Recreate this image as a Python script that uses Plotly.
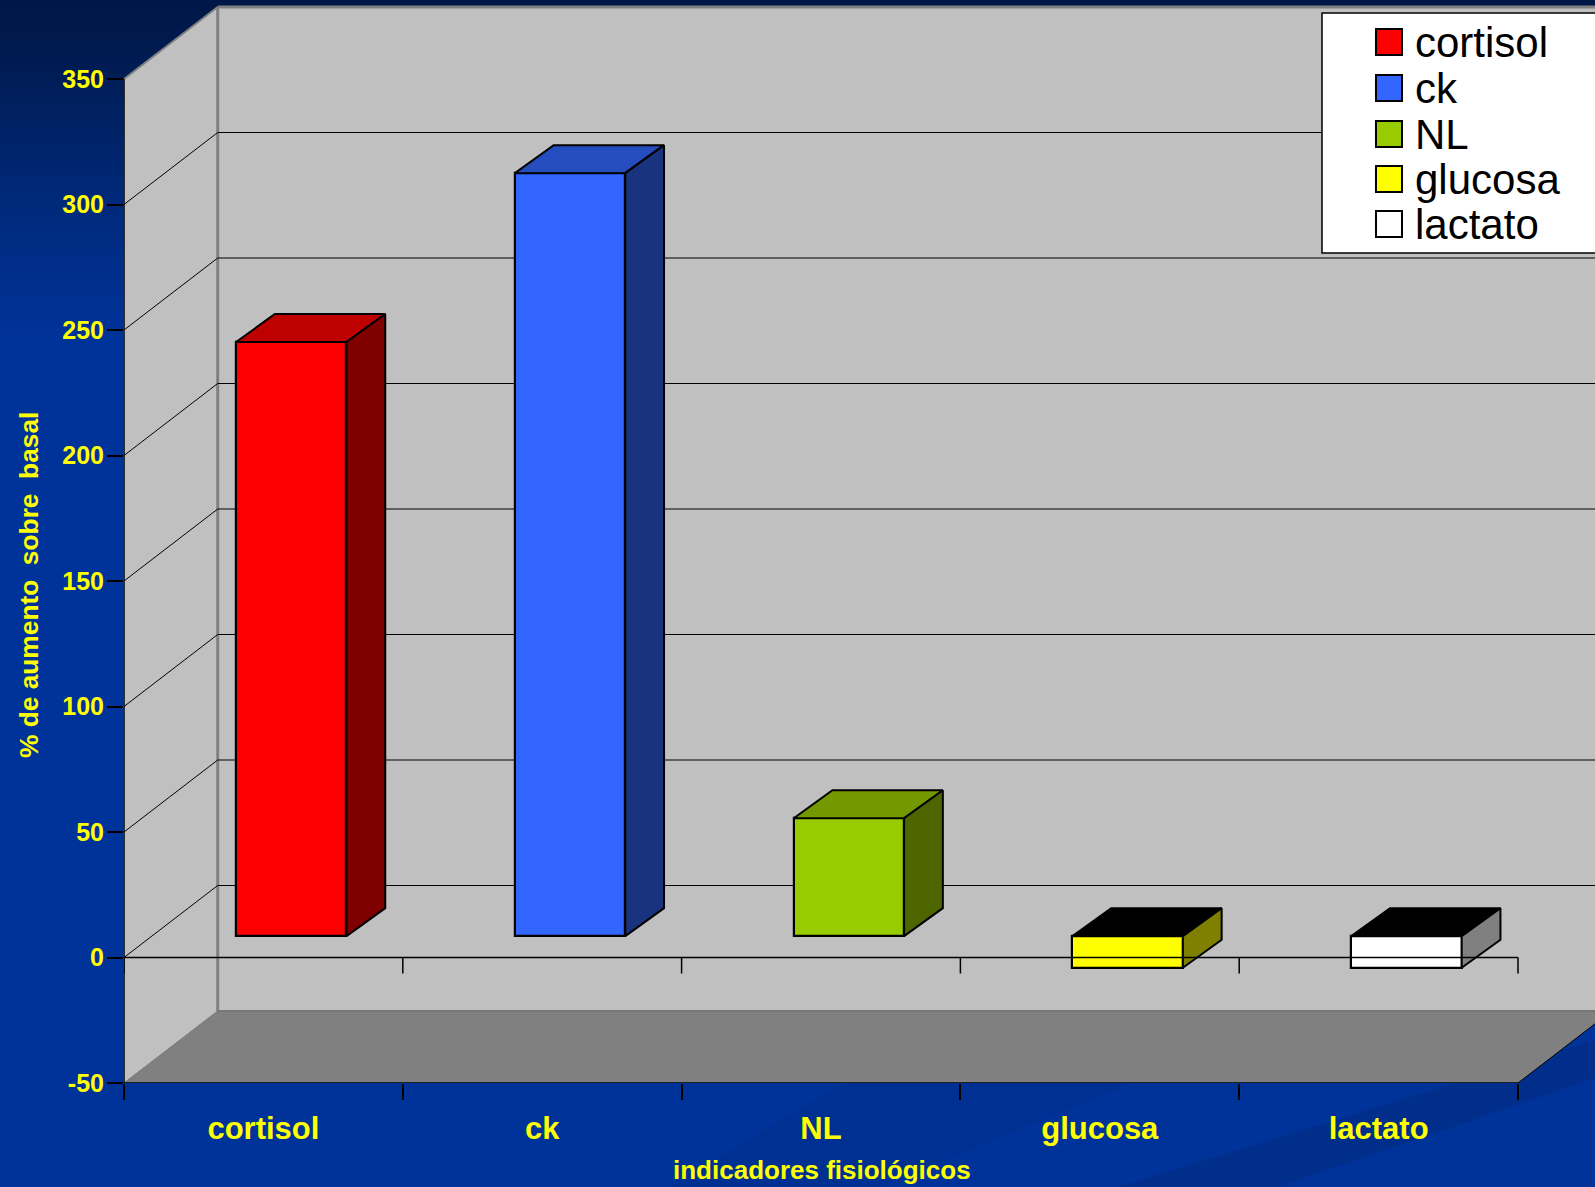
import plotly.graph_objects as go

# ---- data ----
categories = ["cortisol", "ck", "NL", "glucosa", "lactato"]
values = [236.7, 304, 47, -12.6, -12.6]
front_colors = ["#FF0000", "#3366FF", "#99CC00", "#FFFF00", "#FFFFFF"]
side_colors = ["#800000", "#1A337F", "#4D6600", "#808000", "#808080"]
top_colors = ["#BF0000", "#264DBF", "#739900", "#000000", "#000000"]
y_ticks = [-50, 0, 50, 100, 150, 200, 250, 300, 350]
y_tick_labels = ["-50", "0", "50", "100", "150", "200", "250", "300", "350"]
y_title = "% de aumento\u00a0 sobre\u00a0 basal"
x_title = "indicadores fisiológicos"

# ---- page geometry ----
W, H = 1595, 1187
X0, X_UNIT = 124, 278.8
Y_BOTTOM, Y_UNIT = 1083, 2.51
FONT = "Liberation Sans"
YELLOW = "#FFFF00"

# 3-D projection offsets, in axis units
WALL_DX, WALL_DY = 93.7 / X_UNIT, 72 / Y_UNIT
BAR_SHIFT_X, BAR_SHIFT_Y = 0.1, 8.5
BAR_W = 0.396
BAR_DX, BAR_DY = 0.139, 11.15
TICK_X = list(range(len(categories) + 1))
TICK_LEN = 16 / Y_UNIT

x_max = (W - X0) / X_UNIT
y_max = Y_BOTTOM / Y_UNIT - 50
y_min = y_ticks[0]
y_top = y_ticks[-1]

fig = go.Figure()

# ---- slide background (full-page pixel axes) ----
fig.add_trace(go.Heatmap(
    x=[0, W], y=[0, 60, 200, 340, H], z=[[0, 0], [0.12, 0.12], [0.62, 0.62], [1, 1], [1, 1]],
    zmin=0, zmax=1, zsmooth="best", showscale=False, hoverinfo="skip",
    colorscale=[[0, "#001848"], [1, "#003399"]], xaxis="x", yaxis="y"))
fig.add_trace(go.Scatter(
    x=[843, 1133, 880, 670, 843], y=[1083, 1083, H, H, 1083],
    mode="lines", fill="toself", fillcolor="#003192", line=dict(width=0),
    hoverinfo="skip", showlegend=False, xaxis="x", yaxis="y"))
fig.add_trace(go.Scatter(
    x=[1118, W, W, 1277, 1118], y=[H, 1040, 1078, H, H],
    mode="lines", fill="toself", fillcolor="#002E8A", line=dict(width=0),
    hoverinfo="skip", showlegend=False, xaxis="x", yaxis="y"))

# ---- walls and floor ----
shapes = []


def poly(points, fill, line_color=None, line_width=0):
    path = "M" + "L".join(f"{a},{b}" for a, b in points) + "Z"
    shapes.append(dict(type="path", path=path, xref="x2", yref="y2", layer="below",
                       fillcolor=fill, line=dict(color=line_color or fill, width=line_width)))


def seg(a, b, color, width):
    shapes.append(dict(type="line", xref="x2", yref="y2", layer="below",
                       x0=a[0], y0=a[1], x1=b[0], y1=b[1], line=dict(color=color, width=width)))


far = 5 + WALL_DX
poly([(WALL_DX, y_min + WALL_DY), (far, y_min + WALL_DY), (far, y_top + WALL_DY), (WALL_DX, y_top + WALL_DY)], "#C0C0C0")
poly([(0, y_min), (WALL_DX, y_min + WALL_DY), (WALL_DX, y_top + WALL_DY), (0, y_top)], "#C0C0C0")
poly([(0, y_min), (WALL_DX, y_min + WALL_DY), (far, y_min + WALL_DY), (5, y_min)], "#808080")
seg((0, y_top), (WALL_DX, y_top + WALL_DY), "#808080", 2)
seg((WALL_DX, y_top + WALL_DY), (far, y_top + WALL_DY), "#808080", 3)
seg((WALL_DX, y_min + WALL_DY), (WALL_DX, y_top + WALL_DY), "#808080", 3)
seg((0, y_min), (WALL_DX, y_min + WALL_DY), "#808080", 1)
seg((WALL_DX, y_min + WALL_DY), (far, y_min + WALL_DY), "#777777", 2)
for v in y_ticks[1:-1]:
    seg((0, v), (WALL_DX, v + WALL_DY), "#000000", 1)
    seg((WALL_DX, v + WALL_DY), (far, v + WALL_DY), "#000000", 1.2)

# ---- bars: front faces through the bar trace ----
n = len(categories)
centers = [i + 0.5 + BAR_SHIFT_X for i in range(n)]
fig.add_trace(go.Bar(
    x=centers, y=values, base=BAR_SHIFT_Y, width=BAR_W,
    marker=dict(color=front_colors, line=dict(color="#000000", width=2.2)),
    hovertext=categories, hoverinfo="text+y", showlegend=False, xaxis="x2", yaxis="y2"))

# ---- bars: top and side faces ----
for c, val, side, top in zip(centers, values, side_colors, top_colors):
    l, r = c - BAR_W / 2, c + BAR_W / 2
    hi = max(val, 0) + BAR_SHIFT_Y
    lo = min(val, 0) + BAR_SHIFT_Y
    fig.add_trace(go.Scatter(
        x=[l, r, r + BAR_DX, l + BAR_DX, l], y=[hi, hi, hi + BAR_DY, hi + BAR_DY, hi],
        mode="lines", fill="toself", fillcolor=top, line=dict(color="#000000", width=2),
        hoverinfo="skip", showlegend=False, xaxis="x2", yaxis="y2"))
    fig.add_trace(go.Scatter(
        x=[r, r + BAR_DX, r + BAR_DX, r, r], y=[lo, lo + BAR_DY, hi + BAR_DY, hi, lo],
        mode="lines", fill="toself", fillcolor=side, line=dict(color="#000000", width=2),
        hoverinfo="skip", showlegend=False, xaxis="x2", yaxis="y2"))

# ---- front axis lines and ticks (the ticks below -50 come from the axis itself) ----
lx, ly = [0, 0], [y_top, y_min]
for level in (0, y_min):
    lx += [None, 0, n]
    ly += [None, level, level]
for t in TICK_X:
    lx += [None, t, t]
    ly += [None, 0, -TICK_LEN]
fig.add_trace(go.Scatter(x=lx, y=ly, mode="lines", line=dict(color="#000000", width=1.5),
                         hoverinfo="skip", showlegend=False, xaxis="x2", yaxis="y2", cliponaxis=False))
fig.add_trace(go.Scatter(x=[5, 5 + WALL_DX], y=[y_min, y_min + WALL_DY], mode="lines",
                         line=dict(color="#000000", width=1), hoverinfo="skip",
                         showlegend=False, xaxis="x2", yaxis="y2"))

# ---- hand-drawn legend (swatches are larger than plotly's legend allows) ----
LEG_L, LEG_T, LEG_B = 1322, 13, 253
legend_y = [42, 88, 134, 179, 224]
shapes.append(dict(type="rect", xref="paper", yref="paper", layer="above",
                   x0=LEG_L / W, x1=1.01, y0=1 - LEG_B / H, y1=1 - LEG_T / H,
                   fillcolor="#FFFFFF", line=dict(color="#000000", width=1.5)))
annotations = []
for name, col, ly_ in zip(categories, front_colors, legend_y):
    shapes.append(dict(type="rect", xref="paper", yref="paper", layer="above",
                       x0=1376 / W, x1=1402 / W, y0=1 - (ly_ + 13) / H, y1=1 - (ly_ - 13) / H,
                       fillcolor=col, line=dict(color="#000000", width=2)))
    annotations.append(dict(text=name, xref="paper", yref="paper", x=1413 / W, y=1 - (ly_ + 0.5) / H,
                            xanchor="left", yanchor="middle", showarrow=False,
                            font=dict(family=FONT, size=42, color="#000000")))

# ---- axis titles ----
annotations.append(dict(text=x_title, xref="paper", yref="paper", x=822 / W, y=1 - 1170 / H,
                        xanchor="center", yanchor="middle", showarrow=False,
                        font=dict(family=FONT, size=26, color=YELLOW, weight="bold")))
annotations.append(dict(text=y_title, xref="paper", yref="paper", x=29 / W, y=1 - 585 / H, textangle=-90,
                        xanchor="center", yanchor="middle", showarrow=False,
                        font=dict(family=FONT, size=26.3, color=YELLOW, weight="bold")))

fig.update_layout(
    template="none",
    width=W, height=H, margin=dict(l=0, r=0, t=0, b=0, pad=0), autosize=False,
    paper_bgcolor="#003399", plot_bgcolor="rgba(0,0,0,0)", showlegend=False, bargap=0,
    shapes=shapes, annotations=annotations,
    xaxis=dict(domain=[0, 1], range=[0, W], visible=False, fixedrange=True, automargin=False),
    yaxis=dict(domain=[0, 1], range=[H, 0], visible=False, fixedrange=True, automargin=False),
    xaxis2=dict(domain=[X0 / W, 1], range=[0, x_max], anchor="y2", showgrid=False, zeroline=False,
                showline=False, tickmode="array", tickvals=[i + 0.5 for i in range(n)], ticktext=categories,
                ticks="outside", ticklen=18, tickcolor="rgba(0,0,0,0)", automargin=False,
                minor=dict(tickmode="array", tickvals=TICK_X, ticks="outside", ticklen=16,
                           tickcolor="#000000", tickwidth=1.5, showgrid=False),
                tickfont=dict(family=FONT, size=31, color=YELLOW, weight="bold")),
    yaxis2=dict(domain=[1 - Y_BOTTOM / H, 1], range=[y_min, y_max], anchor="x2", showgrid=False, zeroline=False,
                showline=False, tickmode="array", tickvals=y_ticks, ticktext=y_tick_labels, ticks="outside",
                ticklen=16, tickcolor="#000000", tickwidth=1.5, automargin=False, ticklabelstandoff=-2,
                tickfont=dict(family=FONT, size=25, color=YELLOW, weight="bold")),
)

fig.write_html("out.html", config=dict(displayModeBar=False),
               post_script="document.body.style.margin='0';document.body.style.overflow='hidden';")
